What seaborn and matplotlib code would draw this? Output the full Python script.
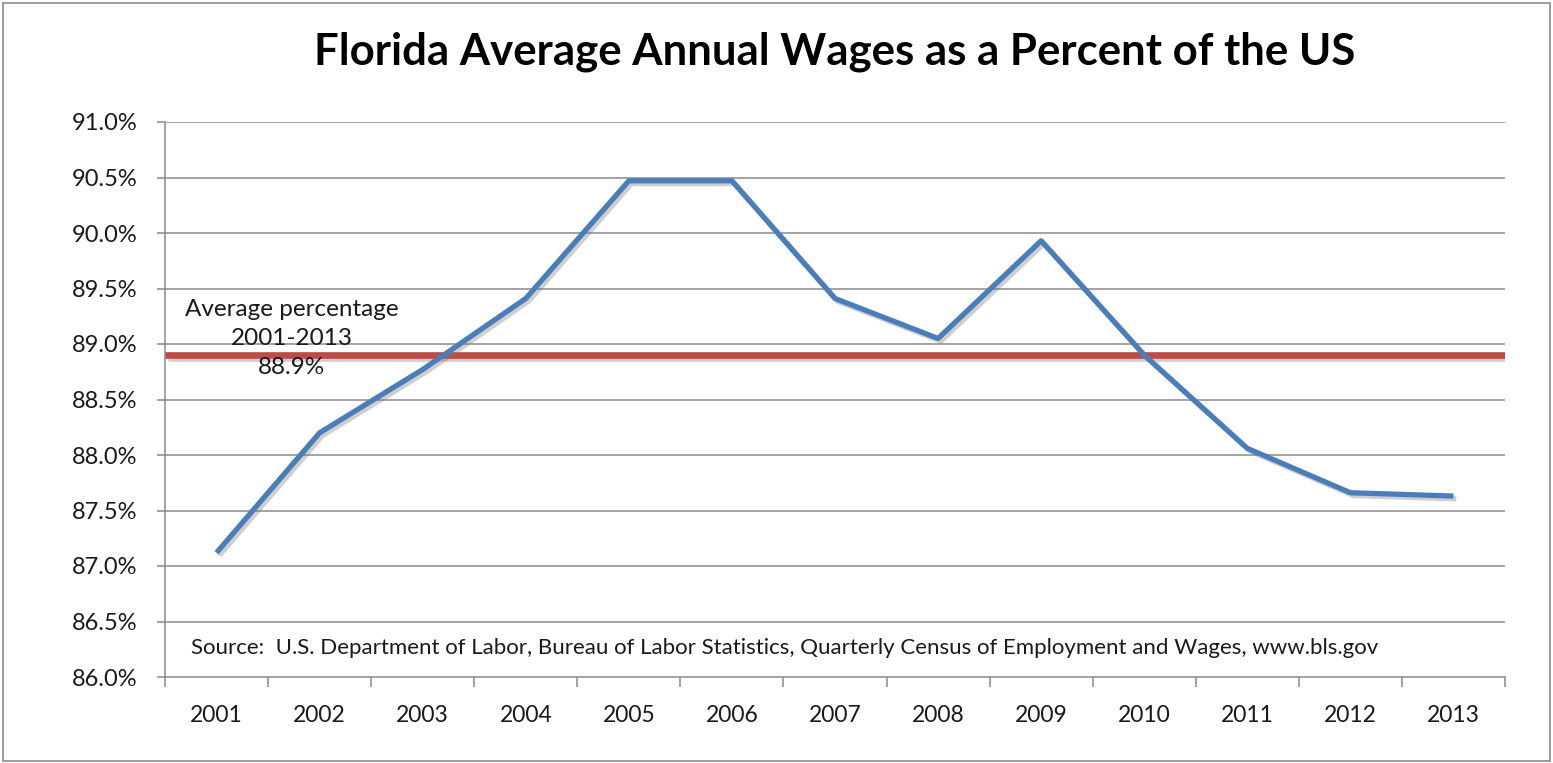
import matplotlib
matplotlib.use("Agg")
import matplotlib.pyplot as plt
import matplotlib.patheffects as pe
from matplotlib.ticker import FixedLocator, FuncFormatter
from matplotlib.patches import Rectangle
import seaborn as sns
import pandas as pd

years = ["2001", "2002", "2003", "2004", "2005", "2006", "2007",
         "2008", "2009", "2010", "2011", "2012", "2013"]
wage_pct = [87.12, 88.20, 88.77, 89.41, 90.47, 90.47, 89.41,
            89.05, 89.93, 88.90, 88.06, 87.66, 87.63]
average_pct = 88.9
y_ticks = [86.0, 86.5, 87.0, 87.5, 88.0, 88.5, 89.0, 89.5, 90.0, 90.5, 91.0]

title = "Florida Average Annual Wages as a Percent of the US"
avg_label = "Average percentage\n2001-2013\n88.9%"
source = ("Source:  U.S. Department of Labor, Bureau of Labor Statistics, "
          "Quarterly Census of Employment and Wages, www.bls.gov")

sns.set_theme(style="white")
plt.rcParams["font.family"] = ["Lato", "DejaVu Sans"]

df = pd.DataFrame({"year": years, "pct": wage_pct})
df["pos"] = range(len(years))

fig = plt.figure(figsize=(15.53, 7.63), dpi=100)
ax = fig.add_axes([165 / 1553, 1 - 677 / 763, 1340 / 1553, 555 / 763])

# Grey frame around the whole chart
fig.patches.append(Rectangle((0.002, 0.002), 0.996, 0.994, transform=fig.transFigure,
                             fill=False, edgecolor="#8c8c8c", linewidth=1.2))

grid_col = "#8a8a8a"
for v in y_ticks[1:]:
    ax.axhline(v, color=grid_col, linewidth=1.1, zorder=1)

shadow = [pe.SimpleLineShadow(offset=(2, -2), shadow_color="#777777", alpha=0.35),
          pe.Normal()]

ax.axhline(average_pct, color="#be4b48", linewidth=4.8, zorder=3,
           path_effects=shadow)

sns.lineplot(data=df, x="pos", y="pct", ax=ax, color="#4a7ebb",
             linewidth=3.8, zorder=4, path_effects=shadow)
for line in ax.get_lines():
    line.set_solid_capstyle("butt")

ax.set_xlim(-0.5, len(years) - 0.5)
ax.set_ylim(86.0, 91.0)

ax.xaxis.set_major_locator(FixedLocator(list(range(len(years)))))
ax.set_xticklabels(years)
ax.xaxis.set_minor_locator(FixedLocator([i - 0.5 for i in range(len(years) + 1)]))
ax.tick_params(axis="x", which="major", length=0, pad=20, labelsize=16.5,
               labelcolor="#1a1a1a")
ax.tick_params(axis="x", which="minor", length=7, width=1.1, color=grid_col,
               direction="out", bottom=True)

ax.yaxis.set_major_locator(FixedLocator(y_ticks))
ax.yaxis.set_major_formatter(FuncFormatter(lambda v, _: f"{v:.1f}%"))
ax.tick_params(axis="y", which="major", length=6, width=1.1, color=grid_col,
               direction="out", left=True, pad=14, labelsize=17,
               labelcolor="#1a1a1a")

ax.set_xlabel("")
ax.set_ylabel("")
for side in ["top", "right"]:
    ax.spines[side].set_visible(False)
for side in ["left", "bottom"]:
    ax.spines[side].set_visible(True)
    ax.spines[side].set_color(grid_col)
    ax.spines[side].set_linewidth(1.1)

ax.text(0.73, 89.05, avg_label, ha="center", va="center", fontsize=17.5,
        color="#1a1a1a", linespacing=1.47, zorder=5)

ax.text(-0.25, 86.26, source, ha="left", va="center", fontsize=16,
        color="#1a1a1a")

fig.text(835 / 1553, 1 - 52 / 763, title, ha="center", va="center",
         fontsize=31.5, fontweight="bold", color="#000000")

fig.savefig("out.png", dpi=100, facecolor="white")
